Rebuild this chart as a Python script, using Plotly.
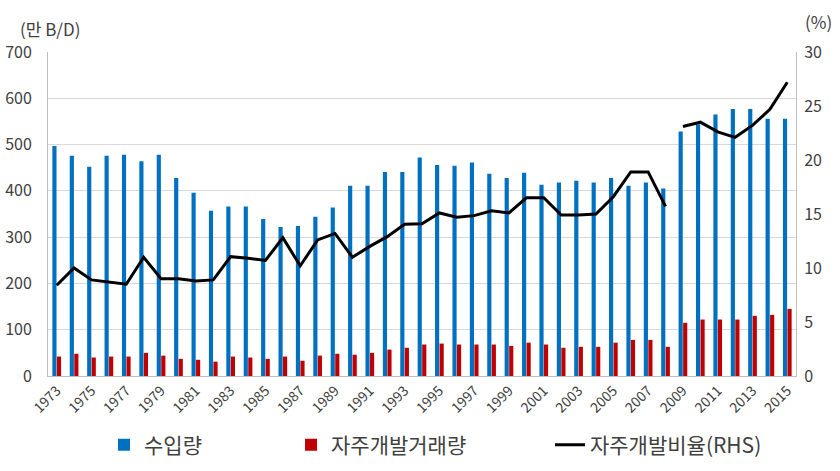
import plotly.graph_objects as go

years = list(range(1973, 2016))
imports = [497, 476, 452, 476, 478, 464, 478, 428, 396, 357,
           366, 366, 339, 322, 324, 344, 364, 411, 411, 441,
           441, 472, 456, 454, 461, 437, 428, 439, 413, 418,
           422, 418, 428, 411, 418, 405, 528, 544, 565, 577,
           577, 556, 556]
own_dev = [42, 48, 40, 42, 42, 50, 44, 37, 35, 31,
           42, 40, 37, 42, 33, 44, 48, 46, 50, 57,
           61, 68, 70, 68, 68, 68, 65, 72, 68, 61,
           63, 63, 72, 78, 78, 63, 115, 122, 122, 122,
           130, 132, 145]
ratio = [8.4, 10.0, 8.9, 8.7, 8.5, 11.0, 9.0, 9.0, 8.8, 8.9,
         11.05, 10.9, 10.7, 12.8, 10.2, 12.6, 13.2, 11.0, 12.0, 12.9,
         14.05, 14.1, 15.1, 14.7, 14.85, 15.3, 15.1, 16.5, 16.5, 14.9,
         14.9, 15.0, 16.6, 18.9, 18.9, 15.7, 23.1, 23.5, 22.6, 22.1,
         23.2, 24.7, 27.2]
break_year = 2009
tick_years = list(range(1973, 2016, 2))

names = ["수입량", "자주개발거래량", "자주개발비율(RHS)"]
FONT = "Noto Sans CJK KR"
TXT = "#404040"

k = years.index(break_year)

fig = go.Figure()
fig.add_trace(go.Bar(x=years, y=imports, name=names[0], marker_color="#0070C0",
                     marker_line_width=0, legend="legend"))
fig.add_trace(go.Bar(x=years, y=own_dev, name=names[1], marker_color="#C00000",
                     marker_line_width=0, legend="legend2"))
fig.add_trace(go.Scatter(x=years[:k], y=ratio[:k], name=names[2], mode="lines",
                         line=dict(color="black", width=3), yaxis="y2",
                         legend="legend3"))
fig.add_trace(go.Scatter(x=years[k:], y=ratio[k:], name=names[2], mode="lines",
                         line=dict(color="black", width=3), yaxis="y2",
                         showlegend=False))

leg_common = dict(orientation="h", y=-0.213, xanchor="left", yanchor="middle",
                  font=dict(size=21, color=TXT), itemwidth=30,
                  bgcolor="rgba(0,0,0,0)")

fig.update_layout(
    width=840, height=471,
    margin=dict(l=48, r=44, t=52, b=95, autoexpand=False),
    plot_bgcolor="white", paper_bgcolor="white",
    barmode="group", bargap=0.48, bargroupgap=0.08,
    font=dict(family=FONT, color=TXT, size=16),
    xaxis=dict(range=[1972.5, 2015.5], tickvals=tick_years,
               ticktext=[str(y) for y in tick_years], tickangle=-45,
               tickfont=dict(size=14), showgrid=False, ticks="",
               showline=True, linecolor="#BFBFBF", linewidth=1, mirror=False,
               automargin=False),
    yaxis=dict(range=[0, 700], dtick=100, showgrid=True, gridcolor="#D9D9D9",
               showline=True, linecolor="#BFBFBF", linewidth=1, zeroline=False,
               ticks="", ticklabelstandoff=12, automargin=False),
    yaxis2=dict(range=[0, 30], dtick=5, overlaying="y", side="right",
                showgrid=False, showline=True, linecolor="#BFBFBF", linewidth=1,
                zeroline=False, ticks="", ticklabelstandoff=4, automargin=False),
    legend=dict(x=0.0749, **leg_common),
    legend2=dict(x=0.3249, **leg_common),
    legend3=dict(x=0.6711, **leg_common),
    showlegend=True,
)
fig.add_annotation(text="(만 B/D)", xref="paper", yref="paper", x=-0.0401, y=1.074,
                   xanchor="left", yanchor="middle", showarrow=False,
                   font=dict(size=17, color=TXT))
fig.add_annotation(text="(%)", xref="paper", yref="paper", x=1.0094, y=1.0926,
                   xanchor="left", yanchor="middle", showarrow=False,
                   font=dict(size=17, color=TXT))

fig.write_html("out.html")
